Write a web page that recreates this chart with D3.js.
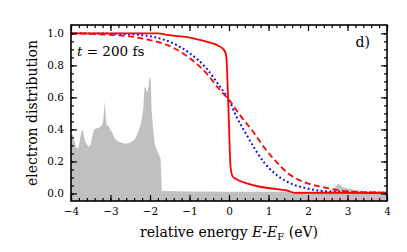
<!DOCTYPE html>
<html>
<head>
<meta charset="utf-8">
<script src="https://cdn.jsdelivr.net/npm/d3@7"></script>
<style>
  body { margin: 0; background: #fff; }
  svg { display: block; }
</style>
</head>
<body>
<script>
// density of states (grey background), energy in eV
var dosE = [-4.00, -3.96, -3.92, -3.87, -3.84, -3.80, -3.76, -3.73, -3.70, -3.67, -3.63, -3.58, -3.53,
            -3.49, -3.45, -3.42, -3.36, -3.30, -3.24, -3.19, -3.16, -3.14, -3.12, -3.10, -3.05, -2.97,
            -2.89, -2.82, -2.74, -2.63, -2.52, -2.42, -2.36, -2.30, -2.25, -2.21, -2.17, -2.14, -2.12,
            -2.09, -2.06, -2.04, -2.02, -2.00, -1.98, -1.96, -1.92, -1.88, -1.84, -1.79, -1.75, -1.73,
            -1.715, -1.70, -1.0, 0.0, 1.0, 2.0, 2.6, 2.70, 2.76, 2.82, 2.90, 3.05, 3.25, 3.5, 4.0];
var dosV = [0.36, 0.37, 0.33, 0.29, 0.28, 0.30, 0.36, 0.39, 0.40, 0.35, 0.32, 0.30, 0.29,
            0.32, 0.37, 0.40, 0.405, 0.41, 0.42, 0.44, 0.53, 0.575, 0.48, 0.43, 0.42, 0.385,
            0.345, 0.325, 0.32, 0.31, 0.315, 0.33, 0.35, 0.385, 0.42, 0.46, 0.53, 0.66, 0.67,
            0.64, 0.635, 0.66, 0.72, 0.73, 0.70, 0.52, 0.40, 0.31, 0.28, 0.25, 0.23, 0.21,
            0.10, 0.015, 0.012, 0.01, 0.01, 0.012, 0.015, 0.04, 0.06, 0.05, 0.035, 0.03, 0.02, 0.012, 0.01];

// nonthermal distribution (solid red)
var solidE = [-4.0, -1.8, -1.58, -1.0, -0.57, -0.23, -0.10, -0.06, -0.03, 0.0, 0.03, 0.06, 0.10, 0.19,
              0.45, 0.78, 1.08, 1.50, 1.65, 4.0];
var solidV = [1.0, 1.0, 0.99, 0.973, 0.948, 0.917, 0.885, 0.83, 0.64, 0.43, 0.20, 0.13, 0.105, 0.089,
              0.063, 0.042, 0.031, 0.016, 0.004, 0.003];

// dashed red
var dashE = [-4.0, -3.5, -3.0, -2.42, -2.23, -1.83, -1.41, -0.99, -0.57, -0.23, 0.0, 0.28, 0.61, 0.91,
             1.16, 1.50, 1.92, 2.35, 2.77, 3.19, 4.0];
var dashV = [1.0, 0.997, 0.99, 0.978, 0.969, 0.948, 0.91, 0.844, 0.75, 0.646, 0.585, 0.489, 0.385, 0.281,
             0.208, 0.125, 0.069, 0.041, 0.021, 0.01, 0.005];

// dotted blue
var dotE = [-4.0, -3.0, -2.23, -1.83, -1.41, -0.99, -0.57, -0.23, 0.0, 0.19, 0.45, 0.70, 0.91, 1.16,
            1.50, 1.92, 2.35, 2.77, 4.0];
var dotV = [1.0, 0.998, 0.99, 0.973, 0.9375, 0.875, 0.781, 0.667, 0.585, 0.479, 0.364, 0.26, 0.1875, 0.125,
            0.069, 0.035, 0.016, 0.01, 0.005];

var xTicks = [-4, -3, -2, -1, 0, 1, 2, 3, 4];
var yTicks = [0.0, 0.2, 0.4, 0.6, 0.8, 1.0];

var serif = '"DejaVu Serif", "Liberation Serif", serif';

var margin = {top: 25, right: 20, bottom: 51, left: 71},
    width = 407 - margin.left - margin.right,
    height = 252 - margin.top - margin.bottom;

var svg = d3.select("body").append("svg")
    .attr("width", 407)
    .attr("height", 252);

var g = svg.append("g")
    .attr("transform", "translate(" + margin.left + "," + margin.top + ")");

var x = d3.scaleLinear().domain([-4, 4]).range([0, width]);
var y = d3.scaleLinear().domain([-0.047, 1.052]).range([height, 0]);

g.append("clipPath").attr("id", "clip")
  .append("rect").attr("width", width).attr("height", height);

var plot = g.append("g").attr("clip-path", "url(#clip)");

// grey DOS
var dos = dosE.map(function(e, i) { return [e, dosV[i]]; });
plot.append("path")
    .datum(dos)
    .attr("fill", "#c0c0c0")
    .attr("d", d3.area()
      .x(function(d) { return x(d[0]); })
      .y0(height)
      .y1(function(d) { return y(d[1]); }));

function curve(es, vs) {
  return es.map(function(e, i) { return [e, vs[i]]; });
}
var line = d3.line()
    .curve(d3.curveMonotoneX)
    .x(function(d) { return x(d[0]); })
    .y(function(d) { return y(d[1]); });

plot.append("path").datum(curve(dotE, dotV))
    .attr("fill", "none").attr("stroke", "#0000ff")
    .attr("stroke-width", 2).attr("stroke-dasharray", "1.8,2.6")
    .attr("d", line);

plot.append("path").datum(curve(dashE, dashV))
    .attr("fill", "none").attr("stroke", "#ff0000")
    .attr("stroke-width", 1.8).attr("stroke-dasharray", "6,3.5")
    .attr("d", line);

plot.append("path").datum(curve(solidE, solidV))
    .attr("fill", "none").attr("stroke", "#ff0000")
    .attr("stroke-width", 1.8)
    .attr("d", line);

// ticks on all four sides, pointing inward
var xMinor = d3.range(-4, 4.001, 0.2);
var yMinor = d3.range(0, 1.001, 0.05);

function fmtX(d) { return d < 0 ? "\u2212" + Math.abs(d) : "" + d; }

g.append("g").attr("transform", "translate(0," + height + ")")
    .call(d3.axisBottom(x).tickValues(xTicks).tickSize(-6).tickPadding(7).tickFormat(fmtX));
g.append("g").attr("transform", "translate(0," + height + ")")
    .call(d3.axisBottom(x).tickValues(xMinor).tickSize(-3).tickFormat(""));
g.append("g")
    .call(d3.axisTop(x).tickValues(xTicks).tickSize(-6).tickFormat(""));
g.append("g")
    .call(d3.axisTop(x).tickValues(xMinor).tickSize(-3).tickFormat(""));
g.append("g")
    .call(d3.axisLeft(y).tickValues(yTicks).tickSize(-6).tickPadding(7).tickFormat(d3.format(".1f")));
g.append("g")
    .call(d3.axisLeft(y).tickValues(yMinor).tickSize(-3).tickFormat(""));
g.append("g").attr("transform", "translate(" + width + ",0)")
    .call(d3.axisRight(y).tickValues(yTicks).tickSize(-6).tickFormat(""));
g.append("g").attr("transform", "translate(" + width + ",0)")
    .call(d3.axisRight(y).tickValues(yMinor).tickSize(-3).tickFormat(""));

g.selectAll(".domain").remove();
g.selectAll(".tick line").attr("stroke", "#000").attr("stroke-width", 1.2);
g.selectAll(".tick text")
    .attr("font-family", null)
    .style("font-size", "10.5px")
    .style("font-family", serif)
    .attr("fill", "#000");

g.append("rect")
    .attr("width", width).attr("height", height)
    .attr("fill", "none").attr("stroke", "#000").attr("stroke-width", 1.6);

// labels
svg.append("text")
    .attr("transform", "translate(37," + (margin.top + height / 2) + ") rotate(-90)")
    .attr("text-anchor", "middle")
    .style("font-family", serif)
    .style("font-size", "14px")
    .text("electron distribution");

var xl = svg.append("text")
    .attr("x", margin.left + width / 2)
    .attr("y", 237)
    .attr("text-anchor", "middle")
    .style("font-family", serif)
    .style("font-size", "14px");
xl.append("tspan").text("relative energy ");
xl.append("tspan").style("font-style", "italic").text("E");
xl.append("tspan").text("-");
xl.append("tspan").style("font-style", "italic").text("E");
xl.append("tspan").attr("baseline-shift", "-25%").style("font-size", "10px").text("F");
xl.append("tspan").text(" (eV)");

var tl = svg.append("text")
    .attr("x", 77).attr("y", 56)
    .style("font-family", serif)
    .style("font-size", "13.5px");
tl.append("tspan").style("font-style", "italic").text("t");
tl.append("tspan").text(" = 200 fs");

svg.append("text")
    .attr("x", 370).attr("y", 47)
    .attr("text-anchor", "end")
    .style("font-family", serif)
    .style("font-size", "14px")
    .text("d)");
</script>
</body>
</html>
